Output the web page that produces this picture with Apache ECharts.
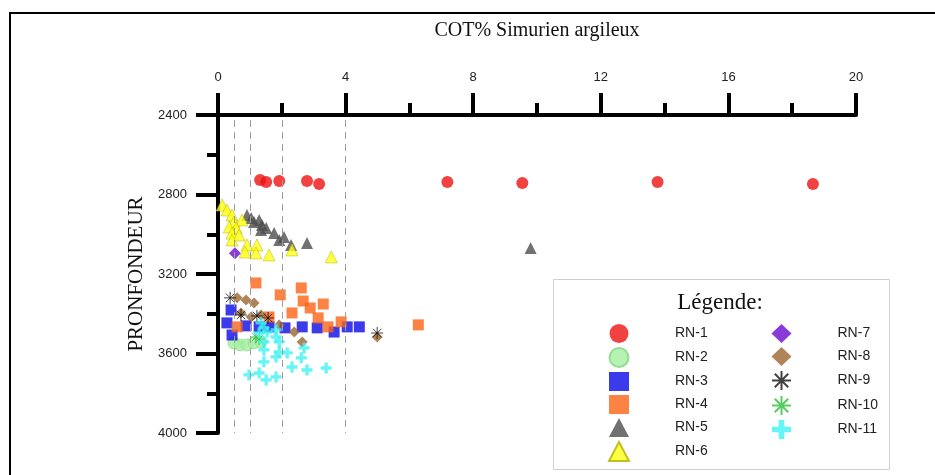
<!DOCTYPE html>
<html>
<head>
<meta charset="utf-8">
<style>
  html, body { margin: 0; padding: 0; background: #fff; }
  #chart { width: 935px; height: 475px; }
</style>
<script src="https://cdn.jsdelivr.net/npm/echarts@6/dist/echarts.min.js"></script>
</head>
<body>
<div id="chart"></div>
<script>
// COT (%) against depth, one array of [COT, depth] pairs per well
const rn1 = [[1.32,2727],[1.51,2737],[1.92,2732],[2.79,2732],[3.17,2747],[7.19,2737],[9.54,2742],[13.78,2737],[18.65,2747]];
const rn2 = [[0.50,3547],[0.69,3557],[0.91,3557],[1.13,3547],[1.35,3542]];
const rn3 = [[0.41,3381],[0.28,3446],[0.44,3507],[0.88,3461],[1.29,3466],[1.60,3466],[2.10,3471],[2.64,3466],[3.11,3471],[3.64,3492],[4.05,3466],[4.43,3466]];
const rn4 = [[1.19,3245],[1.95,3305],[2.61,3270],[2.67,3336],[2.89,3371],[3.30,3351],[2.32,3396],[3.14,3421],[1.60,3416],[0.60,3466],[3.45,3466],[3.86,3441],[6.28,3456]];
const rn5 = [[0.91,2903],[1.04,2918],[1.29,2928],[1.13,2938],[1.38,2953],[1.35,2978],[1.51,2968],[1.76,2994],[2.07,3014],[1.92,3029],[2.29,3054],[2.79,3044],[9.80,3069]];
const rn6 = [[0.13,2853],[0.28,2878],[0.44,2903],[0.50,2938],[0.75,2928],[0.35,2963],[0.57,2968],[0.44,2994],[0.66,3004],[0.44,3029],[0.91,3054],[1.22,3054],[0.85,3089],[1.19,3094],[1.60,3104],[2.32,3079],[3.55,3114]];
const rn7 = [[0.53,3096]];
const rn8 = [[0.60,3320],[0.88,3331],[1.13,3346],[0.72,3396],[1.04,3416],[1.35,3406],[1.92,3456],[2.39,3492],[2.64,3542],[4.99,3517]];
const rn9 = [[0.38,3320],[0.72,3406],[1.22,3411],[1.57,3421],[4.99,3497]];
const rn10 = [[1.19,3517],[1.29,3527]];
const rn11 = [[1.35,3446],[1.44,3471],[1.29,3497],[1.54,3492],[1.82,3481],[1.82,3517],[1.92,3542],[1.44,3542],[1.44,3582],[1.92,3592],[2.17,3597],[1.82,3617],[2.61,3622],[2.70,3572],[1.44,3642],[2.32,3668],[2.79,3683],[3.39,3673],[0.97,3708],[1.29,3698],[1.51,3733],[1.82,3718]];

// vertical reference lines on the COT scale
const cotGuides = [0.5, 1, 2, 4];

const wellNames = ['RN-1','RN-2','RN-3','RN-4','RN-5','RN-6','RN-7','RN-8','RN-9','RN-10','RN-11'];

const ASTERISK = 'path://M0,-10L0,10M-10,0L10,0M-7.07,-7.07L7.07,7.07M-7.07,7.07L7.07,-7.07';
const CROSS = 'path://M-3,-10H3V-3H10V3H3V10H-3V3H-10V-3H-3Z';

function well(name, data, symbol, size, itemStyle) {
  return {
    name: name, type: 'scatter', data: data,
    symbol: symbol, symbolSize: size,
    itemStyle: itemStyle,
    emphasis: { disabled: true },
    z: 3
  };
}

const series = [
  {
    name: 'guides', type: 'scatter', data: [], silent: true,
    markLine: {
      silent: true, symbol: 'none', animation: false,
      label: { show: false },
      lineStyle: { color: '#a0a0a0', type: [7, 5], width: 1 },
      data: cotGuides.map(v => [{ coord: [v, 2425] }, { coord: [v, 4000] }])
    }
  },
  well('RN-2', rn2, 'circle', 12, { color: '#a4f0a0', borderColor: '#86d486', borderWidth: 0.8 }),
  well('RN-1', rn1, 'circle', 12, { color: '#ee1111' }),
  well('RN-3', rn3, 'rect', 11, { color: '#0a0ae6' }),
  well('RN-4', rn4, 'rect', 11, { color: '#fb6414' }),
  well('RN-5', rn5, 'triangle', 12, { color: '#4d4d4d' }),
  well('RN-6', rn6, 'triangle', 12, { color: '#ffff14', borderColor: '#b0b000', borderWidth: 0.6 }),
  well('RN-7', rn7, 'diamond', 12, { color: '#6a0ad0' }),
  well('RN-8', rn8, 'diamond', 11, { color: '#9c6530' }),
  well('RN-9', rn9, ASTERISK, 12, { color: 'rgba(0,0,0,0)', borderColor: '#111', borderWidth: 1 }),
  well('RN-10', rn10, ASTERISK, 12, { color: 'rgba(0,0,0,0)', borderColor: '#2fbf3a', borderWidth: 1 }),
  well('RN-11', rn11, CROSS, 11, { color: '#3ef2f2' })
];

const legendCommon = {
  orient: 'vertical',
  itemWidth: 20, itemHeight: 19, itemGap: 4,
  selectedMode: false, z: 10,
  textStyle: { fontFamily: 'Liberation Sans, Arial, sans-serif', fontSize: 14, color: '#222', padding: [0, 0, 0, 41] }
};

const plainNumber = v => String(v);

const chart = echarts.init(document.getElementById('chart'), null, { renderer: 'canvas' });
chart.setOption({
  animation: false,
  backgroundColor: '#fff',
  grid: { left: 218, right: 79, top: 115, bottom: 42, containLabel: false },
  xAxis: {
    type: 'value', position: 'top', min: 0, max: 20, interval: 4,
    name: 'COT% Simurien argileux', nameLocation: 'middle', nameGap: 74,
    nameTextStyle: { fontFamily: 'Liberation Serif, Times New Roman, serif', fontSize: 20, color: '#111' },
    axisLine: { show: true, onZero: false, lineStyle: { color: '#000', width: 4 } },
    axisTick: { show: true, length: 22, lineStyle: { color: '#000', width: 4 } },
    minorTick: { show: true, splitNumber: 2, length: 12, lineStyle: { color: '#000', width: 4 } },
    axisLabel: { margin: 31, formatter: plainNumber, fontFamily: 'Liberation Sans, Arial, sans-serif', fontSize: 13, color: '#222' },
    splitLine: { show: false }
  },
  yAxis: {
    type: 'value', inverse: true, min: 2400, max: 4000, interval: 400,
    name: 'PRONFONDEUR', nameLocation: 'middle', nameGap: 69, nameRotate: 90,
    nameTextStyle: { fontFamily: 'Liberation Serif, Times New Roman, serif', fontSize: 21, color: '#111' },
    axisLine: { show: true, onZero: false, lineStyle: { color: '#000', width: 4 } },
    axisTick: { show: true, length: 22, lineStyle: { color: '#000', width: 4 } },
    minorTick: { show: true, splitNumber: 2, length: 11, lineStyle: { color: '#000', width: 4 } },
    axisLabel: { margin: 31, formatter: plainNumber, fontFamily: 'Liberation Sans, Arial, sans-serif', fontSize: 13, color: '#222' },
    splitLine: { show: false }
  },
  legend: [
    Object.assign({}, legendCommon, { left: 603, top: 319, data: wellNames.slice(0, 6) }),
    Object.assign({}, legendCommon, { left: 766, top: 319, data: wellNames.slice(6) })
  ],
  graphic: [
    {
      type: 'rect', z: -10, silent: true,
      shape: { x: 10, y: 13, width: 940, height: 480 },
      style: { fill: 'none', stroke: '#000', lineWidth: 2 }
    },
    {
      type: 'rect', z: 1, silent: true,
      shape: { x: 553.5, y: 279.5, width: 336, height: 190 },
      style: { fill: '#fff', stroke: '#cfcfcf', lineWidth: 1 }
    },
    {
      type: 'text', z: 2, silent: true,
      x: 720, y: 303,
      style: {
        text: 'Légende:', fill: '#111',
        font: '23px "Liberation Serif", "Times New Roman", serif',
        align: 'center', verticalAlign: 'middle'
      }
    }
  ],
  series: series
});
</script>
</body>
</html>
